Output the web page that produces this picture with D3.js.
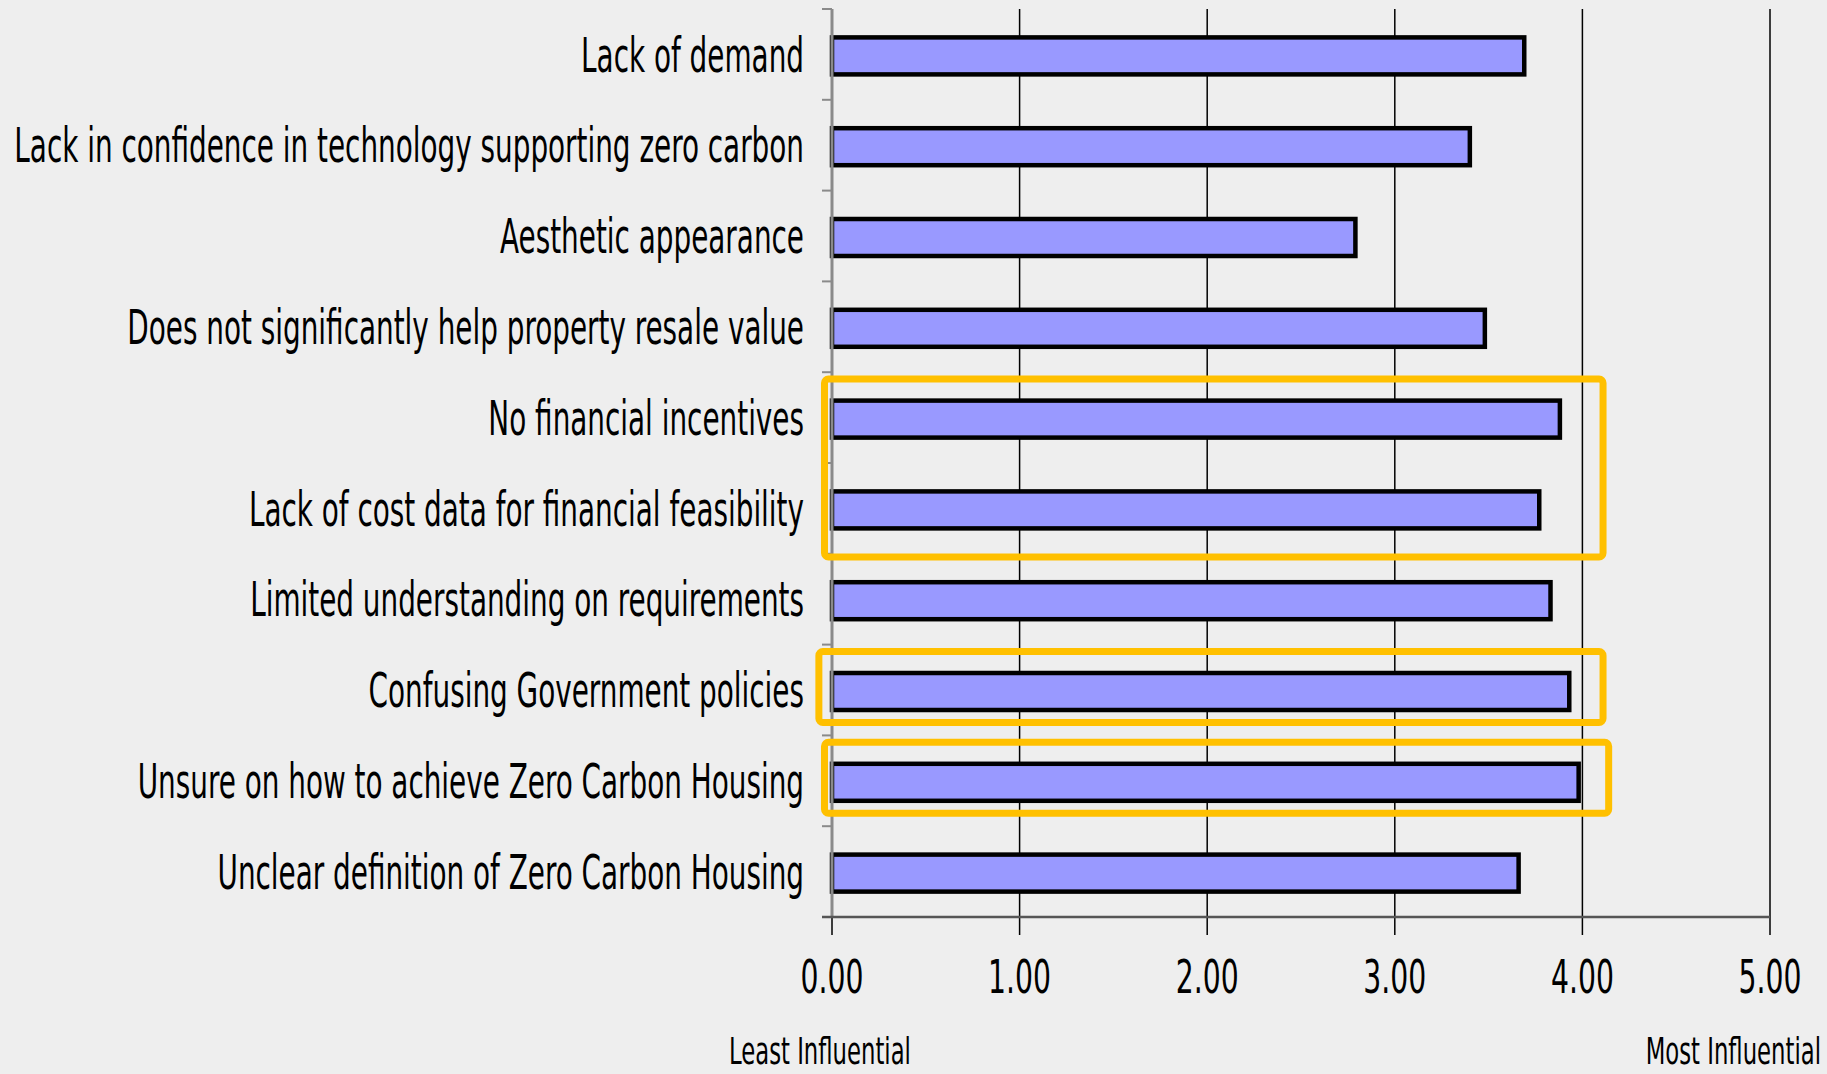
<!DOCTYPE html>
<html>
<head>
<meta charset="utf-8">
<script src="https://cdn.jsdelivr.net/npm/d3@7"></script>
<style>
  html, body { margin: 0; padding: 0; background: #eeeeee; }
  svg { display: block; }
  text { font-family: "Liberation Sans Narrow", "Arial Narrow", "DejaVu Sans Condensed", sans-serif; fill: #000; }
</style>
</head>
<body>
<div id="chart"></div>
<script>
const categories = [
  "Lack of demand",
  "Lack in confidence in technology supporting zero carbon",
  "Aesthetic appearance",
  "Does not significantly help property resale value",
  "No financial incentives",
  "Lack of cost data for financial feasibility",
  "Limited understanding on requirements",
  "Confusing Government policies",
  "Unsure on how to achieve Zero Carbon Housing",
  "Unclear definition of Zero Carbon Housing"
];
const values = [3.69, 3.40, 2.79, 3.48, 3.88, 3.77, 3.83, 3.93, 3.98, 3.66];
const xTicks = [0, 1, 2, 3, 4, 5];
const scaleNotes = ["Least Influential", "Most Influential"];

// highlighted groups of categories (orange frames)
const highlightFrom = ["No financial incentives", "Confusing Government policies", "Unsure on how to achieve Zero Carbon Housing"];
const highlightTo = ["Lack of cost data for financial feasibility", "Confusing Government policies", "Unsure on how to achieve Zero Carbon Housing"];
const highlightX0 = [-0.04, -0.07, -0.04];
const highlightX1 = [4.11, 4.11, 4.14];

function draw() {
  const width = 1827;
  const height = 1074;
  const margin = { top: 9, right: 57, bottom: 157, left: 832 };
  const innerW = width - margin.left - margin.right;
  const innerH = height - margin.top - margin.bottom;

  const svg = d3.select("#chart")
    .append("svg")
    .attr("width", width)
    .attr("height", height);

  svg.append("rect").attr("width", width).attr("height", height).attr("fill", "#eeeeee");

  const g = svg.append("g")
    .attr("transform", `translate(${margin.left},${margin.top})`);

  const x = d3.scaleLinear().domain([0, 5]).range([0, innerW]);
  const y = d3.scaleBand().domain(categories).range([0, innerH]);

  const barH = 37;
  const tickLen = 18;

  // gridlines
  g.append("g")
    .selectAll("line")
    .data(xTicks.filter(d => d > 0))
    .join("line")
    .attr("x1", d => x(d)).attr("x2", d => x(d))
    .attr("y1", 0).attr("y2", innerH + tickLen)
    .attr("stroke", "#000")
    .attr("stroke-width", 1.5);

  // tick below axis for 0
  g.append("line")
    .attr("x1", x(0)).attr("x2", x(0))
    .attr("y1", innerH).attr("y2", innerH + tickLen)
    .attr("stroke", "#000").attr("stroke-width", 1.5);

  // bars
  g.append("g")
    .selectAll("rect")
    .data(categories)
    .join("rect")
    .attr("x", x(0))
    .attr("y", d => y(d) + (y.bandwidth() - barH) / 2 + 1.5)
    .attr("width", (d, i) => x(values[i]) - x(0))
    .attr("height", barH)
    .attr("fill", "#9999ff")
    .attr("stroke", "#000")
    .attr("stroke-width", 4.5);

  // left axis
  g.append("line")
    .attr("x1", 0).attr("x2", 0)
    .attr("y1", 0).attr("y2", innerH)
    .attr("stroke", "#8a8a8a").attr("stroke-width", 3);

  const bounds = categories.map(d => y(d)).concat([innerH]);
  g.append("g")
    .selectAll("line")
    .data(bounds)
    .join("line")
    .attr("x1", -10).attr("x2", 0)
    .attr("y1", d => d).attr("y2", d => d)
    .attr("stroke", "#8a8a8a").attr("stroke-width", 2);

  // bottom axis line
  g.append("line")
    .attr("x1", -10).attr("x2", innerW)
    .attr("y1", innerH).attr("y2", innerH)
    .attr("stroke", "#555").attr("stroke-width", 2.5);

  // category labels (squeezed horizontally like the original)
  const labelG = g.append("g")
    .selectAll("g")
    .data(categories)
    .join("g")
    .attr("transform", d => `translate(-28,${y(d) + y.bandwidth() / 2})`);
  const labels = labelG.append("text")
    .attr("text-anchor", "end")
    .attr("dy", "0.36em")
    .attr("font-size", 48)
    .text(d => d);
  const longest = d3.max(labels.nodes(), n => n.getComputedTextLength());
  labels.attr("transform", `scale(${790 / longest},1)`);

  // x tick labels
  const tickG = g.append("g")
    .selectAll("g")
    .data(xTicks)
    .join("g")
    .attr("transform", d => `translate(${x(d)},${innerH + 76})`);
  const tickText = tickG.append("text")
    .attr("text-anchor", "middle")
    .attr("font-size", 46)
    .text(d => d3.format(".2f")(d));
  const tw = tickText.node().getComputedTextLength();
  tickText.attr("transform", `scale(${63 / tw},1)`);

  // scale notes
  const noteG = svg.append("g")
    .selectAll("g")
    .data(scaleNotes)
    .join("g")
    .attr("transform", (d, i) => i === 0 ? `translate(729,1064)` : `translate(1821,1064)`);
  const notes = noteG.append("text")
    .attr("text-anchor", (d, i) => i === 0 ? "start" : "end")
    .attr("font-size", 38)
    .text(d => d);
  const nw = notes.node().getComputedTextLength();
  notes.attr("transform", `scale(${182 / nw},1)`);

  // orange highlight frames (hand-placed in the original, bottoms differ)
  const frameBottomPad = [30, 14, 14];
  g.append("g")
    .selectAll("rect")
    .data(highlightFrom)
    .join("rect")
    .attr("x", (d, i) => x(highlightX0[i]))
    .attr("y", d => y(d) + (y.bandwidth() - barH) / 2 - 20)
    .attr("width", (d, i) => x(highlightX1[i]) - x(highlightX0[i]))
    .attr("height", (d, i) => y(highlightTo[i]) - y(d) + barH + 20 + frameBottomPad[i])
    .attr("rx", 4)
    .attr("fill", "none")
    .attr("stroke", "#ffc000")
    .attr("stroke-width", 7);
}

document.addEventListener("DOMContentLoaded", draw);
</script>
</body>
</html>
